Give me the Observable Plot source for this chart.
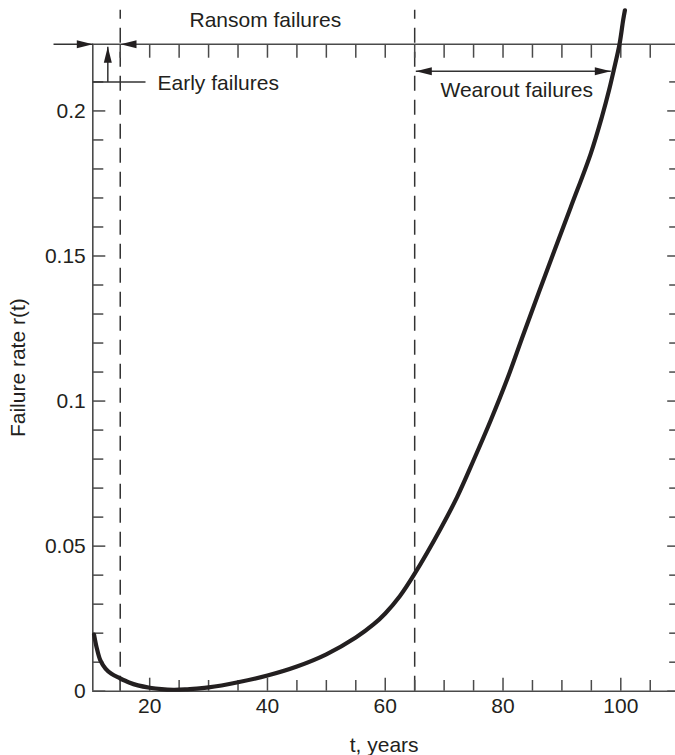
<!DOCTYPE html>
<html>
<head>
<meta charset="utf-8">
<script src="https://cdn.jsdelivr.net/npm/d3@7"></script>
<script src="https://cdn.jsdelivr.net/npm/@observablehq/plot@0.6"></script>
<style>
  html, body { margin: 0; padding: 0; background: #fff; overflow: hidden; }
  #chart svg { display: block; }
</style>
</head>
<body>
<div id="chart"></div>
<script>
// ---- Curve data: failure rate r(t) ----
const years = [10.55, 11.0, 11.65, 12.5, 13.5, 14.9, 16.5, 18, 20, 22, 24, 26, 28, 30, 35, 40, 45, 50, 55, 58, 60, 62.5, 65, 69.4, 72.2, 75, 77.9, 80.7, 83.5, 87.5, 91.5, 94.9, 96.8, 98, 98.8, 99.8, 100.4, 100.7];
const rate  = [0.0195, 0.0150, 0.0105, 0.0078, 0.0060, 0.0045, 0.0030, 0.0020, 0.0012, 0.0007, 0.0005, 0.0006, 0.0009, 0.0013, 0.0031, 0.0054, 0.0085, 0.0127, 0.0185, 0.0230, 0.0268, 0.0328, 0.0405, 0.0560, 0.0669, 0.0796, 0.0933, 0.1075, 0.1232, 0.1452, 0.1668, 0.1853, 0.1980, 0.2071, 0.2140, 0.2232, 0.2313, 0.2347];

// ---- Axes ----
const xDomain = [10.34, 109.29];
const yDomain = [0, 0.223];
const xMajorTicks = [20, 40, 60, 80, 100];
const xMajorLabels = ["20", "40", "60", "80", "100"];
const xMinorTicks = [15, 25, 30, 35, 45, 50, 55, 65, 70, 75, 85, 90, 95, 105];
const xTopTicks = [15, 20, 25, 30, 35, 40, 45, 50, 55, 60, 65, 70, 75, 80, 85, 90, 95, 100, 105];
const yMajorTicks = [0, 0.05, 0.1, 0.15, 0.2];
const yMajorLabels = ["0", "0.05", "0.1", "0.15", "0.2"];
const yMinorTicks = [0.01, 0.02, 0.03, 0.04, 0.06, 0.07, 0.08, 0.09, 0.11, 0.12, 0.13, 0.14, 0.16, 0.17, 0.18, 0.19, 0.21];
const xTitle = "t, years";
const yTitle = "Failure rate r(t)";

// ---- Region boundaries (dashed) ----
const regionBounds = [15, 65];
const regionTop = 0.2347;

// ---- Annotations (in data units: t, r) ----
const leaderT1 = [3.67, 10.34, 12.89, 65.19];
const leaderT2 = [10.34, 19.29, 12.89, 98.3];
const leaderR1 = [0.223, 0.21, 0.21, 0.2137];
const leaderR2 = [0.223, 0.21, 0.2221, 0.2137];

const headT = [10.34, 15.04, 12.89, 65.19, 98.3];
const headR = [0.223, 0.223, 0.2221, 0.2137, 0.2137];
const headDir = [90, -90, 0, -90, 90];

const noteText = ["Ransom failures", "Early failures", "Wearout failures"];
const noteT = [26.76, 21.33, 69.38];
const noteR = [0.2312, 0.2094, 0.207];

// ---- Build tables ----
const curve = years.map((t, i) => ({t, r: rate[i]}));
const leaders = leaderT1.map((t1, i) => ({t1, t2: leaderT2[i], r1: leaderR1[i], r2: leaderR2[i]}));
const heads = headT.map((t, i) => ({t, r: headR[i], dir: headDir[i]}));
const notes = noteText.map((text, i) => ({text, t: noteT[i], r: noteR[i]}));

const ink = "#231f20";
const axisColor = "#4a4a4a";
const fontFamily = "'Liberation Sans', Arial, Helvetica, sans-serif";

const chart = Plot.plot({
  width: 675,
  height: 755,
  marginLeft: 92.3,
  marginRight: 0,
  marginTop: 43.7,
  marginBottom: 64.3,
  x: {domain: xDomain},
  y: {domain: yDomain},
  style: {fontFamily, fontSize: "21px", color: ink, background: "#fff"},
  marks: [
    // dashed region boundaries
    Plot.ruleX(regionBounds, {y1: 0, y2: regionTop, stroke: "#333", strokeWidth: 1.5, strokeDasharray: "15,9"}),
    // frame lines
    Plot.ruleY([yDomain[0]], {stroke: axisColor, strokeWidth: 1.6}),
    Plot.ruleY([yDomain[1]], {stroke: axisColor, strokeWidth: 1.6}),
    Plot.ruleX([xDomain[0]], {y1: yDomain[0], y2: yDomain[1], stroke: axisColor, strokeWidth: 1.6}),
    // bottom ticks (inward)
    Plot.axisX(xMajorTicks, {anchor: "bottom", tickSize: 13, dy: -13, fill: "none", stroke: axisColor, strokeWidth: 1.5, label: null}),
    Plot.axisX(xMinorTicks, {anchor: "bottom", tickSize: 10.7, dy: -10.7, fill: "none", stroke: axisColor, strokeWidth: 1.5, label: null}),
    Plot.axisX(xMajorTicks, {anchor: "bottom", tickSize: 0, tickPadding: 7, label: null, fill: ink,
      tickFormat: d => xMajorLabels[xMajorTicks.indexOf(d)]}),
    // top ticks (inward)
    Plot.axisX(xTopTicks, {anchor: "top", tickSize: 13, dy: 13, fill: "none", stroke: axisColor, strokeWidth: 1.5, label: null}),
    // left ticks (inward)
    Plot.axisY(yMajorTicks, {anchor: "left", tickSize: 13, dx: 13, fill: "none", stroke: axisColor, strokeWidth: 1.5, label: null}),
    Plot.axisY(yMinorTicks, {anchor: "left", tickSize: 11, dx: 11, fill: "none", stroke: axisColor, strokeWidth: 1.5, label: null}),
    Plot.axisY(yMajorTicks, {anchor: "left", tickSize: 0, tickPadding: 7, label: null, fill: ink,
      tickFormat: d => yMajorLabels[yMajorTicks.indexOf(d)]}),
    // right ticks (inward, frame edge just beyond the picture)
    Plot.axisY(yMajorTicks, {anchor: "right", tickSize: 13, dx: -8.8, fill: "none", stroke: axisColor, strokeWidth: 1.5, label: null}),
    Plot.axisY(yMinorTicks, {anchor: "right", tickSize: 11, dx: -6.8, fill: "none", stroke: axisColor, strokeWidth: 1.5, label: null}),
    // axis titles
    Plot.text([yTitle], {frameAnchor: "left", dx: -75, rotate: -90, textAnchor: "middle", fill: ink, fontSize: 21}),
    Plot.text([xTitle], {frameAnchor: "bottom", dy: 45.5, lineAnchor: "top", textAnchor: "middle", fill: ink, fontSize: 21}),
    // annotation leaders and arrowheads
    Plot.link(leaders, {x1: "t1", x2: "t2", y1: "r1", y2: "r2", stroke: "#333", strokeWidth: 1.5}),
    Plot.vector(heads, {x: "t", y: "r", rotate: "dir", length: 16, r: 4, shape: "spike", anchor: "end", fill: ink, stroke: "none"}),
    Plot.text(notes, {x: "t", y: "r", text: "text", textAnchor: "start", fill: ink, fontSize: 21}),
    // failure-rate curve
    Plot.line(curve, {x: "t", y: "r", curve: "catmull-rom", stroke: ink, strokeWidth: 4.2})
  ]
});
document.getElementById("chart").appendChild(chart);
</script>
</body>
</html>
